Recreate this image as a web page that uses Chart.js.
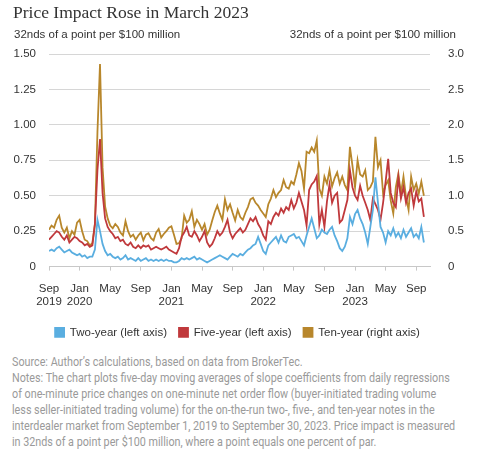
<!DOCTYPE html>
<html>
<head>
<meta charset="utf-8">
<script src="https://cdn.jsdelivr.net/npm/chart.js@4.4.0/dist/chart.umd.min.js"></script>
<style>
    body { margin: 0; background: #fff; width: 500px; height: 463px; position: relative; overflow: hidden; font-family: "Liberation Sans", Arial, sans-serif; }
    #chart { position: absolute; left: 0; top: 0; }
    #title { position: absolute; left: 13px; top: 2px; font: 17.5px/20px "Liberation Serif", serif; color: #333; white-space: nowrap; }
    .unit { position: absolute; top: 27px; font-size: 11.5px; line-height: 14px; color: #333; white-space: nowrap; }
    #unit-left { left: 14px; }
    #unit-right { right: 44px; }
    #notes { position: absolute; left: 12px; top: 354px; color: #9a9a9a; font: 13px/16px Roboto, sans-serif; white-space: nowrap; transform-origin: 0 0; }
</style>
</head>
<body>
<canvas id="chart" width="500" height="350"></canvas>
<div id="title">Price Impact Rose in March 2023</div>
<div class="unit" id="unit-left">32nds of a point per $100 million</div>
<div class="unit" id="unit-right">32nds of a point per $100 million</div>
<div id="notes">Source: Author’s calculations, based on data from BrokerTec.<br>Notes: The chart plots five-day moving averages of slope coefficients from daily regressions<br>of one-minute price changes on one-minute net order flow (buyer-initiated trading volume<br>less seller-initiated trading volume) for the on-the-run two-, five-, and ten-year notes in the<br>interdealer market from September 1, 2019 to September 30, 2023. Price impact is measured<br>in 32nds of a point per $100 million, where a point equals one percent of par.</div>
<script>
// three readings per month, starting Sep 1 2019 (one row = four months)
const twoYear = [
    0.11, 0.12, 0.11, 0.13, 0.14, 0.12, 0.10, 0.11, 0.12, 0.10, 0.09, 0.08,
    0.09, 0.07, 0.08, 0.06, 0.07, 0.07, 0.12, 0.33, 0.25, 0.16, 0.11, 0.08,
    0.09, 0.07, 0.06, 0.07, 0.05, 0.06, 0.08, 0.05, 0.06, 0.05, 0.04, 0.06,
    0.04, 0.05, 0.06, 0.04, 0.05, 0.04, 0.05, 0.04, 0.05, 0.04, 0.05, 0.04,
    0.04, 0.03, 0.03, 0.04, 0.06, 0.05, 0.06, 0.05, 0.06, 0.07, 0.05, 0.06,
    0.05, 0.04, 0.03, 0.04, 0.05, 0.06, 0.07, 0.08, 0.07, 0.06, 0.05, 0.07,
    0.09, 0.08, 0.07, 0.09, 0.08, 0.10, 0.12, 0.13, 0.15, 0.16, 0.21, 0.16,
    0.11, 0.09, 0.15, 0.17, 0.19, 0.21, 0.17, 0.22, 0.18, 0.17, 0.21, 0.22,
    0.23, 0.20, 0.21, 0.18, 0.15, 0.22, 0.28, 0.34, 0.27, 0.20, 0.22, 0.26,
    0.24, 0.23, 0.26, 0.28, 0.22, 0.18, 0.13, 0.11, 0.14, 0.20, 0.35, 0.30,
    0.37, 0.40, 0.34, 0.30, 0.24, 0.16, 0.28, 0.40, 0.63, 0.45, 0.28, 0.24,
    0.17, 0.25, 0.22, 0.27, 0.21, 0.24, 0.20, 0.26, 0.21, 0.24, 0.27, 0.21,
    0.23, 0.20, 0.28, 0.17
];
const fiveYear = [
    0.19, 0.21, 0.23, 0.25, 0.24, 0.21, 0.19, 0.22, 0.17, 0.19, 0.21, 0.20,
    0.18, 0.17, 0.15, 0.16, 0.14, 0.15, 0.30, 0.68, 0.90, 0.52, 0.34, 0.28,
    0.25, 0.23, 0.20, 0.21, 0.18, 0.19, 0.16, 0.15, 0.17, 0.14, 0.13, 0.15,
    0.13, 0.15, 0.14, 0.15, 0.12, 0.13, 0.14, 0.13, 0.12, 0.13, 0.14, 0.12,
    0.11, 0.10, 0.09, 0.13, 0.21, 0.24, 0.28, 0.22, 0.21, 0.25, 0.22, 0.18,
    0.21, 0.25, 0.17, 0.14, 0.16, 0.20, 0.25, 0.22, 0.24, 0.28, 0.33, 0.24,
    0.20, 0.23, 0.25, 0.27, 0.24, 0.26, 0.30, 0.34, 0.32, 0.35, 0.30, 0.27,
    0.22, 0.19, 0.32, 0.30, 0.35, 0.38, 0.36, 0.41, 0.38, 0.42, 0.40, 0.47,
    0.41, 0.45, 0.52, 0.46, 0.40, 0.29, 0.54, 0.58, 0.60, 0.64, 0.30, 0.40,
    0.28, 0.46, 0.58, 0.45, 0.50, 0.52, 0.31, 0.33, 0.40, 0.47, 0.68, 0.56,
    0.50, 0.47, 0.57, 0.50, 0.45, 0.40, 0.33, 0.48, 0.44, 0.40, 0.33, 0.45,
    0.60, 0.76, 0.52, 0.45, 0.42, 0.63, 0.48, 0.56, 0.45, 0.52, 0.55, 0.43,
    0.53, 0.46, 0.48, 0.35
];
const tenYear = [
    0.52, 0.58, 0.55, 0.66, 0.72, 0.55, 0.48, 0.55, 0.40, 0.50, 0.45, 0.62,
    0.66, 0.50, 0.38, 0.36, 0.30, 0.33, 0.60, 1.90, 2.86, 1.40, 0.85, 0.68,
    0.58, 0.54, 0.60, 0.56, 0.48, 0.44, 0.64, 0.50, 0.42, 0.45, 0.38, 0.44,
    0.48, 0.37, 0.45, 0.47, 0.40, 0.37, 0.48, 0.53, 0.41, 0.46, 0.50, 0.55,
    0.57, 0.45, 0.32, 0.33, 0.40, 0.72, 0.62, 0.66, 0.78, 0.56, 0.66, 0.60,
    0.52, 0.60, 0.45, 0.52, 0.65, 0.77, 0.86, 0.75, 0.66, 0.95, 0.80, 0.88,
    0.76, 0.65, 0.80, 0.70, 0.66, 0.76, 0.84, 0.95, 0.97, 0.90, 0.86, 0.80,
    0.75, 0.70, 0.88, 0.96, 1.08, 0.98, 1.04, 1.08, 1.22, 1.12, 1.10, 1.20,
    1.16, 1.30, 1.46, 1.35, 1.10, 1.62, 1.60, 1.68, 1.62, 1.78, 1.10, 1.00,
    1.27, 1.17, 1.36, 1.13, 1.25, 1.33, 1.17, 1.27, 1.15, 1.08, 1.69, 1.42,
    1.12, 1.50, 1.30, 1.27, 1.36, 1.08, 1.12, 1.20, 1.83, 1.40, 1.50, 1.03,
    1.15, 1.22, 0.93, 0.75, 1.12, 1.31, 1.03, 1.27, 0.98, 0.80, 1.27, 1.08,
    1.17, 1.03, 1.20, 1.00
];
const seriesNames = ["Two-year (left axis)", "Five-year (left axis)", "Ten-year (right axis)"];
const tickLabels = [["Sep", "2019"], ["Jan", "2020"], "May", "Sep", ["Jan", "2021"], "May", "Sep",
    ["Jan", "2022"], "May", "Sep", ["Jan", "2023"], "May", "Sep"];
const readingsPerTick = 12;   // 3 readings a month, a tick every 4 months
const axisEnd = 149.4;        // axis runs on to late October 2023

Chart.defaults.font.family = '"Liberation Sans", Arial, sans-serif';
Chart.defaults.font.size = 11.5;
Chart.defaults.color = "#333";

const toPoints = values => values.map((v, i) => ({ x: i, y: v }));

new Chart(document.getElementById("chart"), {
    type: "line",
    data: {
        datasets: [
            { label: seriesNames[0], data: toPoints(twoYear), yAxisID: "y", borderColor: "#5aaee0", backgroundColor: "#5aaee0" },
            { label: seriesNames[1], data: toPoints(fiveYear), yAxisID: "y", borderColor: "#c0393c", backgroundColor: "#c0393c" },
            { label: seriesNames[2], data: toPoints(tenYear), yAxisID: "y2", borderColor: "#b8872c", backgroundColor: "#b8872c" },
        ],
    },
    options: {
        responsive: false,
        animation: false,
        elements: {
            point: { radius: 0 },
            line: { borderWidth: 1.8, tension: 0 },
        },
        // right padding keeps the full-width legend centred like the original
        layout: { padding: { top: 54, left: 0, right: 25, bottom: 1.9 } },
        plugins: {
            legend: {
                position: "bottom",
                labels: { boxWidth: 9, boxHeight: 9, padding: 12, color: "#333" },
            },
            tooltip: { enabled: false },
        },
        scales: {
            x: {
                type: "linear",
                min: 0,
                max: axisEnd,
                afterBuildTicks: axis => {
                    axis.ticks = tickLabels.map((_, i) => ({ value: i * readingsPerTick }));
                },
                afterFit: axis => { axis.height -= 5.6; },
                ticks: {
                    autoSkip: false,
                    maxRotation: 0,
                    padding: 11,
                    callback: (value, index) => tickLabels[index],
                },
                grid: { drawOnChartArea: false, drawTicks: true, tickLength: 4, color: "#c8c8c8" },
                border: { color: "#c8c8c8" },
            },
            y: {
                position: "left",
                min: 0,
                max: 1.5,
                afterFit: axis => { axis.width = 49; },
                ticks: {
                    stepSize: 0.25,
                    padding: 13,
                    callback: v => (v === 0 ? "0" : v.toFixed(2)),
                },
                grid: { color: "#d6d6d6", drawTicks: false },
                border: { display: false },
            },
            y2: {
                position: "right",
                min: 0,
                max: 3,
                afterFit: axis => { axis.width = 45; },
                ticks: {
                    stepSize: 0.5,
                    padding: 10,
                    callback: v => (v === 0 ? "0" : v.toFixed(1)),
                },
                grid: { display: false },
                border: { display: false },
            },
        },
    },
});

// squeeze the notes to the condensed width of the original
const notes = document.getElementById("notes");
notes.style.transform = `scaleX(${443 / notes.offsetWidth})`;
</script>
</body>
</html>
